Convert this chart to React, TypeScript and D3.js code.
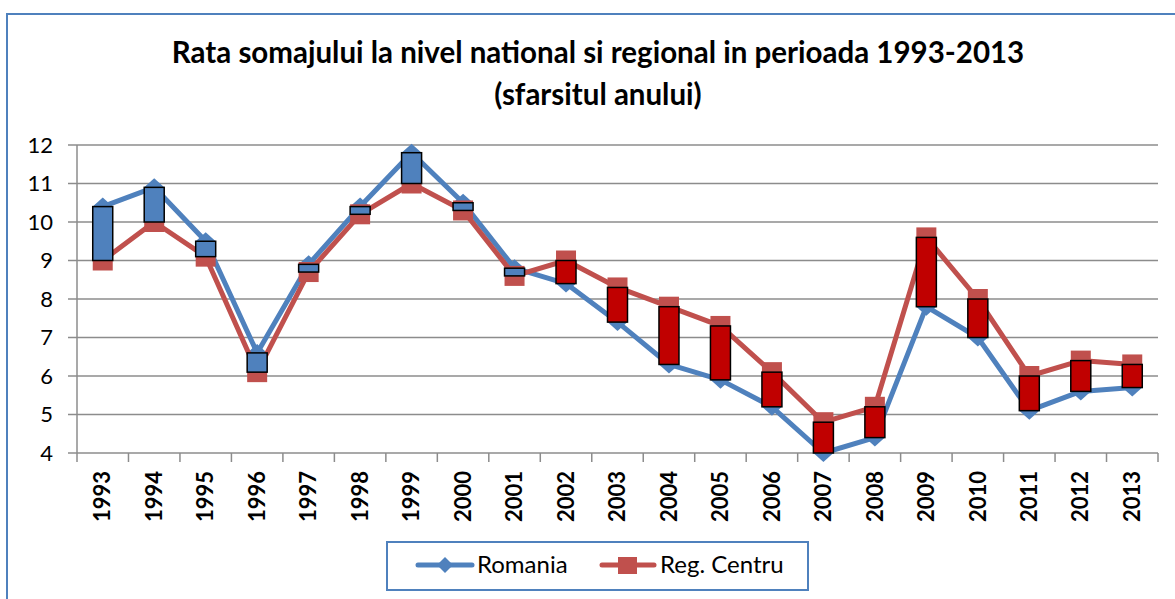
import React from "react";
import * as d3 from "d3";

const years = ["1993","1994","1995","1996","1997","1998","1999","2000","2001","2002","2003","2004","2005","2006","2007","2008","2009","2010","2011","2012","2013"];
const romania = [10.4,10.9,9.5,6.6,8.9,10.4,11.8,10.5,8.8,8.4,7.4,6.3,5.9,5.2,4.0,4.4,7.8,7.0,5.1,5.6,5.7];
const centru = [9.0,10.0,9.1,6.1,8.7,10.2,11.0,10.3,8.6,9.0,8.3,7.8,7.3,6.1,4.8,5.2,9.6,8.0,6.0,6.4,6.3];
const yTicks = [4,5,6,7,8,9,10,11,12];
const titleLines = ["Rata somajului la nivel national si regional in perioada 1993-2013", "(sfarsitul anului)"];
const seriesNames = ["Romania", "Reg. Centru"];

const W = 1175, H = 599;
const BLUE = "#4F81BD";
const RED_LINE = "#C0504D";
const RED_BAR = "#C00000";
const GRID = "#8C8C8C";
const FONT = "Lato, 'Open Sans', sans-serif";

export default function App() {
  const x = d3.scaleBand<string>().domain(years).range([77, 1158]).padding(0);
  const y = d3.scaleLinear().domain([4, 12]).range([453, 145]);
  const cx = (i: number) => (x(years[i]) as number) + x.bandwidth() / 2;
  const line = d3.line<number>().x((_, i) => cx(i)).y((d) => y(d));
  const barW = 20;
  const diamond = (px: number, py: number, hw: number, hh: number) =>
    `M${px},${py - hh}L${px + hw},${py}L${px},${py + hh}L${px - hw},${py}Z`;

  return (
    <div style={{ position: "absolute", left: 0, top: 0 }}>
      <svg width={W} height={H} style={{ display: "block", background: "#fff" }}>
        <rect x={7} y={14} width={W + 20} height={H + 20} fill="#fff" stroke={BLUE} strokeWidth={2} />
        {titleLines.map((t, i) => (
          <text key={i} x={598} y={i === 0 ? 63 : 105} textAnchor="middle" fontFamily={FONT} fontWeight="bold" fontSize={29.5} fill="#000">
            {t}
          </text>
        ))}
        {/* grid */}
        {yTicks.map((v) => (
          <g key={v}>
            <line x1={68} x2={1158} y1={y(v)} y2={y(v)} stroke={GRID} strokeWidth={1.5} />
            <text x={53} y={y(v)} dy="0.35em" textAnchor="end" fontFamily={FONT} fontSize={22} fill="#000">{v}</text>
          </g>
        ))}
        <line x1={77} x2={77} y1={y(12)} y2={462} stroke={GRID} strokeWidth={1.5} />
        {years.map((yr) => (
          <line key={yr} x1={(x(yr) as number) + x.bandwidth()} x2={(x(yr) as number) + x.bandwidth()} y1={453} y2={462} stroke={GRID} strokeWidth={1.5} />
        ))}
        {years.map((yr, i) => (
          <text key={yr} transform={`translate(${cx(i)},471) rotate(-90)`} dy="0.35em" textAnchor="end" fontFamily={FONT} fontWeight="bold" fontSize={22} fill="#000">
            {yr}
          </text>
        ))}
        {/* series */}
        <path d={line(romania) || ""} fill="none" stroke={BLUE} strokeWidth={5} strokeLinejoin="round" />
        {romania.map((v, i) => (
          <path key={i} d={diamond(cx(i), y(v), 10, 9)} fill={BLUE} />
        ))}
        <path d={line(centru) || ""} fill="none" stroke={RED_LINE} strokeWidth={5} strokeLinejoin="round" />
        {centru.map((v, i) => (
          <rect key={i} x={cx(i) - 10} y={y(v) - 10} width={20} height={20} fill={RED_LINE} />
        ))}
        {/* up/down bars */}
        {romania.map((v, i) => {
          const c = centru[i];
          const top = y(Math.max(v, c));
          const bot = y(Math.min(v, c));
          return (
            <rect key={i} x={cx(i) - barW / 2} y={top} width={barW} height={bot - top} fill={v > c ? BLUE : RED_BAR} stroke="#000" strokeWidth={1.5} />
          );
        })}
        {/* legend */}
        <rect x={387} y={542} width={421} height={48} fill="#fff" stroke={BLUE} strokeWidth={2} />
        <line x1={418} x2={472} y1={565} y2={565} stroke={BLUE} strokeWidth={5} strokeLinecap="round" />
        <path d={diamond(445, 565, 8, 8)} fill={BLUE} />
        <text x={477} y={565} dy="0.35em" fontFamily={FONT} fontSize={24} fill="#000">{seriesNames[0]}</text>
        <line x1={602} x2={654} y1={565} y2={565} stroke={RED_LINE} strokeWidth={5} strokeLinecap="round" />
        <rect x={618} y={557} width={19} height={17} fill={RED_LINE} />
        <text x={660} y={565} dy="0.35em" fontFamily={FONT} fontSize={24} fill="#000">{seriesNames[1]}</text>
      </svg>
    </div>
  );
}
